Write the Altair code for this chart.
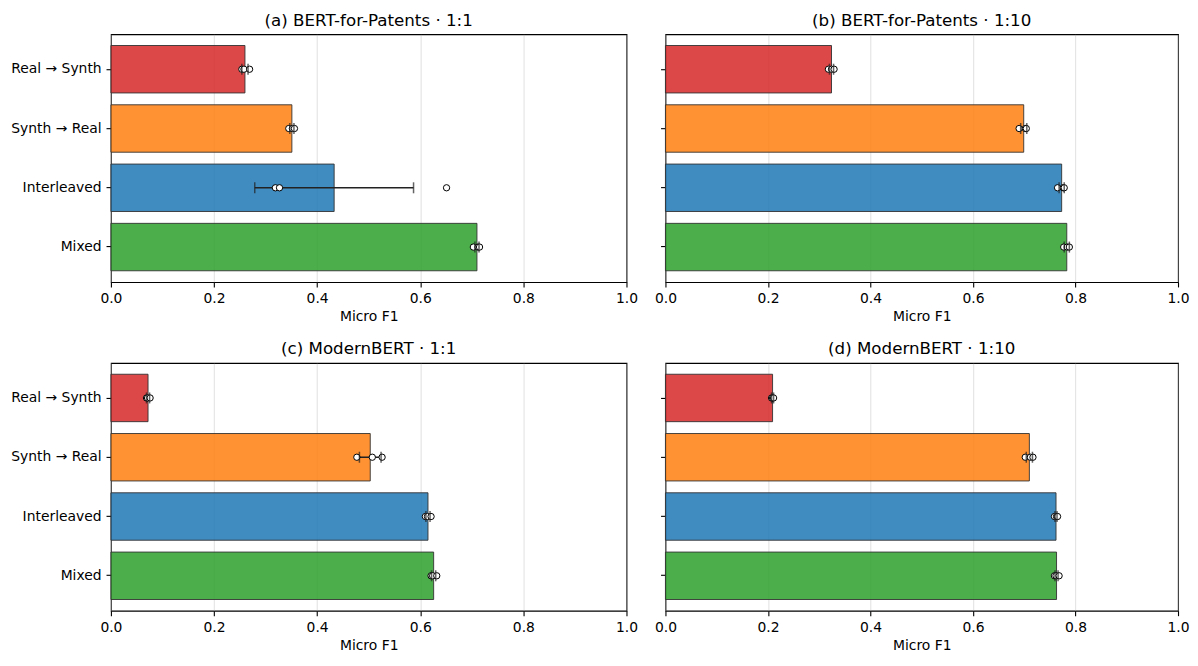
import altair as alt
import pandas as pd

categories = ["Real → Synth", "Synth → Real", "Interleaved", "Mixed"]
colors = ["#d62728", "#ff7f0e", "#1f77b4", "#2ca02c"]
panel_titles = [
    "(a) BERT-for-Patents · 1:1",
    "(b) BERT-for-Patents · 1:10",
    "(c) ModernBERT · 1:1",
    "(d) ModernBERT · 1:10",
]
x_ticks = [0.0, 0.2, 0.4, 0.6, 0.8, 1.0]

# mean Micro F1 per strategy (bar length)
mean_a = [0.260, 0.351, 0.433, 0.710]
mean_b = [0.324, 0.699, 0.773, 0.783]
mean_c = [0.072, 0.503, 0.615, 0.626]
mean_d = [0.209, 0.710, 0.762, 0.763]

# standard deviation (error bar half-length)
std_a = [0.006, 0.004, 0.154, 0.004]
std_b = [0.004, 0.006, 0.005, 0.005]
std_c = [0.003, 0.021, 0.004, 0.004]
std_d = [0.002, 0.006, 0.002, 0.003]

# individual seed runs
seeds_a = [[0.254, 0.258, 0.269], [0.345, 0.352, 0.356], [0.319, 0.327, 0.651], [0.703, 0.712, 0.715]]
seeds_b = [[0.318, 0.324, 0.329], [0.690, 0.702, 0.704], [0.765, 0.776, 0.778], [0.777, 0.784, 0.788]]
seeds_c = [[0.069, 0.071, 0.076], [0.477, 0.507, 0.526], [0.610, 0.614, 0.621], [0.621, 0.624, 0.632]]
seeds_d = [[0.207, 0.209, 0.211], [0.702, 0.712, 0.717], [0.759, 0.763, 0.765], [0.759, 0.762, 0.768]]

FONT = "DejaVu Sans"
W_LEFT, W_RIGHT = 516, 513
H_TOP, H_BOT = 248, 248


def panel(title, means, stds, seeds, show_labels, width, height):
    bars = pd.DataFrame({
        "cat": categories,
        "mean": means,
        "lo": [m - s for m, s in zip(means, stds)],
        "hi": [m + s for m, s in zip(means, stds)],
    })
    pts = pd.DataFrame([
        {"cat": c, "val": v} for c, vals in zip(categories, seeds) for v in vals
    ])

    y_enc = alt.Y(
        "cat:N",
        sort=categories,
        scale=alt.Scale(domain=categories, paddingInner=0.2, paddingOuter=0.19),
        axis=alt.Axis(
            title=None,
            labels=show_labels,
            labelFont=FONT,
            labelFontSize=13.9,
            labelColor="black",
            labelPadding=4.9,
            ticks=True,
            tickSize=4.9,
            tickColor="black",
            tickWidth=1.1,
            domain=False,
            grid=False,
        ),
    )
    x_scale = alt.Scale(domain=[0, 1], nice=False, zero=True)
    x_axis = alt.Axis(
        title="Micro F1",
        titleFont=FONT,
        titleFontSize=13.9,
        titleFontWeight="normal",
        titleColor="black",
        titlePadding=4,
        values=x_ticks,
        format=".1f",
        labelFlush=False,
        labelFont=FONT,
        labelFontSize=13.9,
        labelColor="black",
        labelPadding=4.9,
        tickSize=4.9,
        tickColor="black",
        tickWidth=1.1,
        domain=False,
        grid=True,
        gridColor="#b0b0b0",
        gridOpacity=0.35,
        gridWidth=1.1,
    )

    bar = alt.Chart(bars).mark_bar(
        fillOpacity=0.85, stroke="#333333", strokeWidth=1.0, strokeOpacity=0.9
    ).encode(
        y=y_enc,
        x=alt.X("mean:Q", scale=x_scale, axis=x_axis),
        color=alt.Color("cat:N", scale=alt.Scale(domain=categories, range=colors), legend=None),
    )
    err = alt.Chart(bars).mark_rule(color="#222222", strokeWidth=1.5).encode(
        y=alt.Y("cat:N", sort=categories),
        x=alt.X("lo:Q"),
        x2="hi:Q",
    )
    points = alt.Chart(pts).mark_point(
        shape="circle", filled=True, fill="white", stroke="black", strokeWidth=1.0, size=40, opacity=1
    ).encode(
        y=alt.Y("cat:N", sort=categories),
        x=alt.X("val:Q"),
    )
    cap_lo = alt.Chart(bars).mark_tick(
        color="#222222", thickness=1.5, size=11, orient="vertical"
    ).encode(y=alt.Y("cat:N", sort=categories), x=alt.X("lo:Q"))
    cap_hi = alt.Chart(bars).mark_tick(
        color="#222222", thickness=1.5, size=11, orient="vertical"
    ).encode(y=alt.Y("cat:N", sort=categories), x=alt.X("hi:Q"))

    return alt.layer(bar, err, points, cap_lo, cap_hi).properties(
        width=width,
        height=height,
        title=alt.TitleParams(
            text=title, font=FONT, fontSize=16.7, fontWeight="normal",
            color="black", anchor="middle", offset=5,
        ),
    )


pa = panel(panel_titles[0], mean_a, std_a, seeds_a, True, W_LEFT, H_TOP)
pb = panel(panel_titles[1], mean_b, std_b, seeds_b, False, W_RIGHT, H_TOP)
pc = panel(panel_titles[2], mean_c, std_c, seeds_c, True, W_LEFT, H_BOT)
pd_ = panel(panel_titles[3], mean_d, std_d, seeds_d, False, W_RIGHT, H_BOT)

chart = alt.vconcat(
    alt.hconcat(pa, pb, spacing=15),
    alt.hconcat(pc, pd_, spacing=15),
    spacing=15,
).properties(
    padding={"left": 2, "top": 3, "right": 0, "bottom": 0},
    background="white",
).configure_view(
    stroke="black", strokeWidth=1.1
)

chart.save("out.html", embed_options={"renderer": "svg", "actions": False})
